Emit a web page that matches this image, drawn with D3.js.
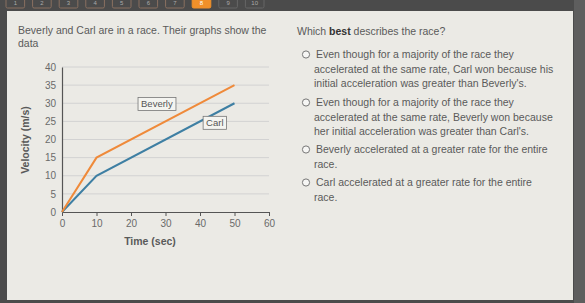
<!DOCTYPE html>
<html>
<head>
<meta charset="utf-8">
<script src="https://cdn.jsdelivr.net/npm/d3@7"></script>
<style>
  body { margin: 0; background: #4d4d4d; }
  svg { display: block; font-family: "Liberation Sans", Arial, sans-serif; }
</style>
</head>
<body>
<svg id="page" width="585" height="303"></svg>
<script>
// chart data
const times = [0, 10, 50];
const beverly = [0, 15, 35];
const carl = [0, 10, 30];
const xTicks = [0, 10, 20, 30, 40, 50, 60];
const yTicks = [0, 5, 10, 15, 20, 25, 30, 35, 40];

const question = ["Beverly and Carl are in a race. Their graphs show the", "data"];
const options = [
  ["Even though for a majority of the race they", "accelerated at the same rate, Carl won because his", "initial acceleration was greater than Beverly's."],
  ["Even though for a majority of the race they", "accelerated at the same rate, Beverly won because", "her initial acceleration was greater than Carl's."],
  ["Beverly accelerated at a greater rate for the entire", "race."],
  ["Carl accelerated at a greater rate for the entire", "race."]
];
const navButtons = ["1", "2", "3", "4", "5", "6", "7", "8", "9", "10"];
const activeButton = 7;

const svg = d3.select("#page");

// frame
svg.append("rect").attr("width", 585).attr("height", 303).attr("fill", "#4b4b4b");
svg.append("rect").attr("x", 574).attr("y", 0).attr("width", 11).attr("height", 303).attr("fill", "#5e5e5e");

// nav buttons
const navX = d3.scaleBand().domain(navButtons).range([6, 264]).paddingInner(0.3);
const nav = svg.selectAll(".nav").data(navButtons).enter().append("g");
nav.append("rect")
  .attr("x", d => navX(d)).attr("y", -2)
  .attr("width", navX.bandwidth()).attr("height", 10).attr("rx", 1.5)
  .attr("fill", (d, i) => i === activeButton ? "#f0902a" : "#4b4b4b")
  .attr("stroke", (d, i) => i === activeButton ? "#f0902a" : (i > activeButton ? "#666" : "#8a7060"))
  .attr("stroke-width", 1);
nav.append("text")
  .attr("x", d => navX(d) + navX.bandwidth() / 2).attr("y", 5)
  .attr("text-anchor", "middle").attr("font-size", 6)
  .attr("fill", (d, i) => i === activeButton ? "#fff" : "#aaa")
  .text(d => d);

// content panel
svg.append("rect").attr("x", 7).attr("y", 11).attr("width", 566).attr("height", 289).attr("fill", "#ebeae5");

// question text
svg.append("g").selectAll("text").data(question).enter().append("text")
  .attr("x", 18).attr("y", (d, i) => 34 + i * 13)
  .attr("font-size", 10.5).attr("fill", "#5a5a5a")
  .text(d => d);

// chart
const x = d3.scaleLinear().domain([0, 60]).range([62, 269]);
const y = d3.scaleLinear().domain([0, 40]).range([212, 67]);

svg.append("g").selectAll("line").data(yTicks.slice(1)).enter().append("line")
  .attr("x1", x(0)).attr("x2", x(60))
  .attr("y1", d => y(d)).attr("y2", d => y(d))
  .attr("stroke", "#d2d2d2").attr("stroke-width", 1);

const yAxis = svg.append("g").attr("transform", `translate(${x(0)},0)`)
  .call(d3.axisLeft(y).tickValues(yTicks).tickSize(0).tickPadding(6));
yAxis.select(".domain").attr("stroke", "#555").attr("stroke-width", 1.2);
yAxis.selectAll("text").attr("font-size", 10).attr("fill", "#6a6a6a").attr("font-family", "Liberation Sans, Arial, sans-serif");

const xAxis = svg.append("g").attr("transform", `translate(0,${y(0)})`)
  .call(d3.axisBottom(x).tickValues(xTicks).tickSize(4).tickSizeOuter(0).tickPadding(4));
xAxis.select(".domain").attr("stroke", "#555").attr("stroke-width", 1.2);
xAxis.selectAll(".tick line").attr("stroke", "#555");
xAxis.selectAll("text").attr("font-size", 10).attr("fill", "#6a6a6a").attr("font-family", "Liberation Sans, Arial, sans-serif");

svg.append("text").attr("x", 150).attr("y", 245).attr("text-anchor", "middle")
  .attr("font-size", 10.5).attr("font-weight", "bold").attr("fill", "#5a5a5a").text("Time (sec)");
svg.append("text").attr("transform", "translate(29,140) rotate(-90)").attr("text-anchor", "middle")
  .attr("font-size", 10.5).attr("font-weight", "bold").attr("fill", "#5a5a5a").text("Velocity (m/s)");

const line = d3.line().x(d => x(d[0])).y(d => y(d[1]));
svg.append("path").datum(times.map((t, i) => [t, carl[i]]))
  .attr("d", line).attr("fill", "none").attr("stroke", "#3e7fa3").attr("stroke-width", 2);
svg.append("path").datum(times.map((t, i) => [t, beverly[i]]))
  .attr("d", line).attr("fill", "none").attr("stroke", "#ef8a3a").attr("stroke-width", 2);

// series labels
function seriesLabel(name, cx, cy) {
  const g = svg.append("g");
  const t = g.append("text").attr("x", cx).attr("y", cy + 3.5).attr("text-anchor", "middle")
    .attr("font-size", 9.5).attr("fill", "#555").text(name);
  const b = t.node().getBBox();
  g.insert("rect", "text").attr("x", b.x - 3).attr("y", cy - 6.5).attr("width", b.width + 6).attr("height", 13)
    .attr("fill", "#f4f4f0").attr("stroke", "#777").attr("stroke-width", 0.8);
}
seriesLabel("Beverly", x(27.5), y(29.8));
seriesLabel("Carl", x(44.3), y(24.6));

// answer side
const qt = svg.append("text").attr("x", 297).attr("y", 35).attr("font-size", 10.5).attr("fill", "#5a5a5a");
qt.append("tspan").text("Which ");
qt.append("tspan").attr("font-weight", "bold").attr("fill", "#333").text("best");
qt.append("tspan").text(" describes the race?");

const optTop = [58, 106, 153, 186];
options.forEach((lines, k) => {
  svg.append("circle").attr("cx", 306).attr("cy", optTop[k] - 3.5).attr("r", 3.6)
    .attr("fill", "#f6f6f4").attr("stroke", "#777").attr("stroke-width", 1);
  svg.append("g").selectAll("text").data(lines).enter().append("text")
    .attr("x", (d, i) => i === 0 ? 316 : 314).attr("y", (d, i) => optTop[k] + i * 14.5)
    .attr("font-size", 10.5).attr("fill", "#5a5a5a").text(d => d);
});
</script>
</body>
</html>
